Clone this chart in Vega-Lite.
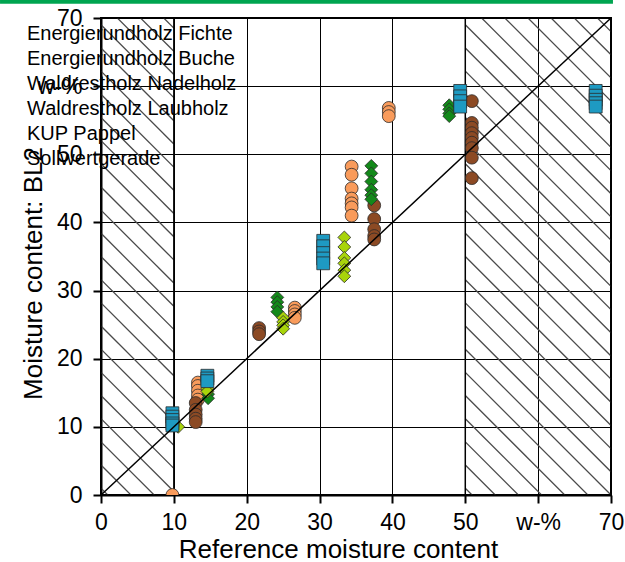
{
  "$schema": "https://vega.github.io/schema/vega-lite/v6.json",
  "width": 510,
  "height": 477,
  "autosize": {"type": "none"},
  "padding": {"left": 101, "top": 18, "right": 14, "bottom": 67},
  "background": "white",
  "config": {
    "font": "Liberation Sans",
    "view": {"stroke": "black", "strokeWidth": 2}
  },
  "datasets": {
    "hatch": [
      {"x": 0, "y": 1.0, "x2": 10, "y2": -9.69},
      {"x": 0, "y": 4.4, "x2": 10, "y2": -6.29},
      {"x": 0, "y": 7.8, "x2": 10, "y2": -2.89},
      {"x": 0, "y": 11.2, "x2": 10, "y2": 0.51},
      {"x": 0, "y": 14.6, "x2": 10, "y2": 3.91},
      {"x": 0, "y": 18.0, "x2": 10, "y2": 7.31},
      {"x": 0, "y": 21.4, "x2": 10, "y2": 10.71},
      {"x": 0, "y": 24.8, "x2": 10, "y2": 14.11},
      {"x": 0, "y": 28.2, "x2": 10, "y2": 17.51},
      {"x": 0, "y": 31.6, "x2": 10, "y2": 20.91},
      {"x": 0, "y": 35.0, "x2": 10, "y2": 24.31},
      {"x": 0, "y": 38.4, "x2": 10, "y2": 27.71},
      {"x": 0, "y": 41.8, "x2": 10, "y2": 31.11},
      {"x": 0, "y": 45.2, "x2": 10, "y2": 34.51},
      {"x": 0, "y": 48.6, "x2": 10, "y2": 37.91},
      {"x": 0, "y": 52.0, "x2": 10, "y2": 41.31},
      {"x": 0, "y": 55.4, "x2": 10, "y2": 44.71},
      {"x": 0, "y": 58.8, "x2": 10, "y2": 48.11},
      {"x": 0, "y": 62.2, "x2": 10, "y2": 51.51},
      {"x": 0, "y": 65.6, "x2": 10, "y2": 54.91},
      {"x": 0, "y": 69.0, "x2": 10, "y2": 58.31},
      {"x": 0, "y": 72.4, "x2": 10, "y2": 61.71},
      {"x": 0, "y": 75.8, "x2": 10, "y2": 65.11},
      {"x": 0, "y": 79.2, "x2": 10, "y2": 68.51},
      {"x": 50, "y": 21.4, "x2": 70, "y2": 0.01},
      {"x": 50, "y": 24.8, "x2": 70, "y2": 3.41},
      {"x": 50, "y": 28.2, "x2": 70, "y2": 6.81},
      {"x": 50, "y": 31.6, "x2": 70, "y2": 10.21},
      {"x": 50, "y": 35.0, "x2": 70, "y2": 13.61},
      {"x": 50, "y": 38.4, "x2": 70, "y2": 17.01},
      {"x": 50, "y": 41.8, "x2": 70, "y2": 20.41},
      {"x": 50, "y": 45.2, "x2": 70, "y2": 23.81},
      {"x": 50, "y": 48.6, "x2": 70, "y2": 27.21},
      {"x": 50, "y": 52.0, "x2": 70, "y2": 30.61},
      {"x": 50, "y": 55.4, "x2": 70, "y2": 34.01},
      {"x": 50, "y": 58.8, "x2": 70, "y2": 37.41},
      {"x": 50, "y": 62.2, "x2": 70, "y2": 40.81},
      {"x": 50, "y": 65.6, "x2": 70, "y2": 44.21},
      {"x": 50, "y": 69.0, "x2": 70, "y2": 47.61},
      {"x": 50, "y": 72.4, "x2": 70, "y2": 51.01},
      {"x": 50, "y": 75.8, "x2": 70, "y2": 54.41},
      {"x": 50, "y": 79.2, "x2": 70, "y2": 57.81},
      {"x": 50, "y": 82.6, "x2": 70, "y2": 61.21},
      {"x": 50, "y": 86.0, "x2": 70, "y2": 64.61},
      {"x": 50, "y": 89.4, "x2": 70, "y2": 68.01},
      {"x": 50, "y": 18.0, "x2": 70, "y2": -3.39},
      {"x": 50, "y": 14.6, "x2": 70, "y2": -6.79},
      {"x": 50, "y": 11.2, "x2": 70, "y2": -10.19},
      {"x": 50, "y": 7.8, "x2": 70, "y2": -13.59},
      {"x": 50, "y": 4.4, "x2": 70, "y2": -16.99},
      {"x": 50, "y": 1.0, "x2": 70, "y2": -20.39}
    ],
    "regions": [
      {"x": 0, "x2": 10, "y": 0, "y2": 70},
      {"x": 50, "x2": 70, "y": 0, "y2": 70}
    ],
    "ideal": [
      {"series": "Sollwertgerade", "x": 0, "y": 0},
      {"series": "Sollwertgerade", "x": 70, "y": 70}
    ],
    "pts": [
      {"series": "Energierundholz Fichte", "x": 9.8, "y": 0},
      {"series": "Energierundholz Fichte", "x": 13.3, "y": 16.5},
      {"series": "Energierundholz Fichte", "x": 13.3, "y": 16.0},
      {"series": "Energierundholz Fichte", "x": 13.3, "y": 15.3},
      {"series": "Energierundholz Fichte", "x": 13.3, "y": 14.6},
      {"series": "Energierundholz Fichte", "x": 13.3, "y": 14.0},
      {"series": "Energierundholz Fichte", "x": 26.6, "y": 27.5},
      {"series": "Energierundholz Fichte", "x": 26.6, "y": 27.0},
      {"series": "Energierundholz Fichte", "x": 26.6, "y": 26.5},
      {"series": "Energierundholz Fichte", "x": 26.6, "y": 26.0},
      {"series": "Energierundholz Fichte", "x": 34.4, "y": 48.2},
      {"series": "Energierundholz Fichte", "x": 34.4, "y": 47.0},
      {"series": "Energierundholz Fichte", "x": 34.4, "y": 45.0},
      {"series": "Energierundholz Fichte", "x": 34.4, "y": 43.5},
      {"series": "Energierundholz Fichte", "x": 34.4, "y": 42.8},
      {"series": "Energierundholz Fichte", "x": 34.4, "y": 42.2},
      {"series": "Energierundholz Fichte", "x": 34.4, "y": 41.0},
      {"series": "Energierundholz Fichte", "x": 39.5, "y": 56.8},
      {"series": "Energierundholz Fichte", "x": 39.5, "y": 56.2},
      {"series": "Energierundholz Fichte", "x": 39.5, "y": 55.6},
      {"series": "Energierundholz Buche", "x": 13.0, "y": 13.5},
      {"series": "Energierundholz Buche", "x": 13.0, "y": 12.5},
      {"series": "Energierundholz Buche", "x": 13.0, "y": 11.8},
      {"series": "Energierundholz Buche", "x": 13.0, "y": 11.2},
      {"series": "Energierundholz Buche", "x": 13.0, "y": 10.7},
      {"series": "Energierundholz Buche", "x": 21.7, "y": 24.5},
      {"series": "Energierundholz Buche", "x": 21.7, "y": 24.0},
      {"series": "Energierundholz Buche", "x": 21.7, "y": 23.6},
      {"series": "Energierundholz Buche", "x": 37.5, "y": 42.5},
      {"series": "Energierundholz Buche", "x": 37.5, "y": 40.5},
      {"series": "Energierundholz Buche", "x": 37.5, "y": 39.0},
      {"series": "Energierundholz Buche", "x": 37.5, "y": 38.0},
      {"series": "Energierundholz Buche", "x": 37.5, "y": 37.5},
      {"series": "Energierundholz Buche", "x": 50.9, "y": 57.8},
      {"series": "Energierundholz Buche", "x": 50.9, "y": 54.6},
      {"series": "Energierundholz Buche", "x": 50.9, "y": 53.9},
      {"series": "Energierundholz Buche", "x": 50.9, "y": 53.1},
      {"series": "Energierundholz Buche", "x": 50.9, "y": 52.4},
      {"series": "Energierundholz Buche", "x": 50.9, "y": 51.7},
      {"series": "Energierundholz Buche", "x": 50.9, "y": 50.9},
      {"series": "Energierundholz Buche", "x": 50.9, "y": 49.5},
      {"series": "Energierundholz Buche", "x": 50.9, "y": 46.5},
      {"series": "Waldrestholz Nadelholz", "x": 14.7, "y": 14.8},
      {"series": "Waldrestholz Nadelholz", "x": 14.7, "y": 14.2},
      {"series": "Waldrestholz Nadelholz", "x": 24.2, "y": 29.0},
      {"series": "Waldrestholz Nadelholz", "x": 24.2, "y": 28.3},
      {"series": "Waldrestholz Nadelholz", "x": 24.2, "y": 27.6},
      {"series": "Waldrestholz Nadelholz", "x": 24.2, "y": 26.9},
      {"series": "Waldrestholz Nadelholz", "x": 37.1, "y": 48.3},
      {"series": "Waldrestholz Nadelholz", "x": 37.1, "y": 47.2},
      {"series": "Waldrestholz Nadelholz", "x": 37.1, "y": 46.0},
      {"series": "Waldrestholz Nadelholz", "x": 37.1, "y": 44.8},
      {"series": "Waldrestholz Nadelholz", "x": 37.1, "y": 44.0},
      {"series": "Waldrestholz Nadelholz", "x": 37.1, "y": 43.4},
      {"series": "Waldrestholz Nadelholz", "x": 47.8, "y": 57.2},
      {"series": "Waldrestholz Nadelholz", "x": 47.8, "y": 56.6},
      {"series": "Waldrestholz Nadelholz", "x": 47.8, "y": 56.0},
      {"series": "Waldrestholz Nadelholz", "x": 47.8, "y": 55.6},
      {"series": "Waldrestholz Laubholz", "x": 10.6, "y": 10.0},
      {"series": "Waldrestholz Laubholz", "x": 14.6, "y": 15.6},
      {"series": "Waldrestholz Laubholz", "x": 14.6, "y": 15.2},
      {"series": "Waldrestholz Laubholz", "x": 25.0, "y": 26.0},
      {"series": "Waldrestholz Laubholz", "x": 25.0, "y": 25.4},
      {"series": "Waldrestholz Laubholz", "x": 25.0, "y": 24.9},
      {"series": "Waldrestholz Laubholz", "x": 25.0, "y": 24.4},
      {"series": "Waldrestholz Laubholz", "x": 33.4, "y": 37.8},
      {"series": "Waldrestholz Laubholz", "x": 33.4, "y": 36.4},
      {"series": "Waldrestholz Laubholz", "x": 33.4, "y": 34.8},
      {"series": "Waldrestholz Laubholz", "x": 33.4, "y": 34.0},
      {"series": "Waldrestholz Laubholz", "x": 33.4, "y": 33.0},
      {"series": "Waldrestholz Laubholz", "x": 33.4, "y": 32.1},
      {"series": "KUP Pappel", "x": 9.8, "y": 12.0},
      {"series": "KUP Pappel", "x": 9.8, "y": 11.5},
      {"series": "KUP Pappel", "x": 9.8, "y": 11.0},
      {"series": "KUP Pappel", "x": 9.8, "y": 10.5},
      {"series": "KUP Pappel", "x": 9.8, "y": 10.2},
      {"series": "KUP Pappel", "x": 14.6, "y": 17.5},
      {"series": "KUP Pappel", "x": 14.6, "y": 17.1},
      {"series": "KUP Pappel", "x": 14.6, "y": 16.7},
      {"series": "KUP Pappel", "x": 30.5, "y": 37.3},
      {"series": "KUP Pappel", "x": 30.5, "y": 36.5},
      {"series": "KUP Pappel", "x": 30.5, "y": 35.5},
      {"series": "KUP Pappel", "x": 30.5, "y": 34.7},
      {"series": "KUP Pappel", "x": 30.5, "y": 34.0},
      {"series": "KUP Pappel", "x": 49.3, "y": 59.3},
      {"series": "KUP Pappel", "x": 49.3, "y": 58.5},
      {"series": "KUP Pappel", "x": 49.3, "y": 57.8},
      {"series": "KUP Pappel", "x": 49.3, "y": 57.0},
      {"series": "KUP Pappel", "x": 67.9, "y": 59.3},
      {"series": "KUP Pappel", "x": 67.9, "y": 58.6},
      {"series": "KUP Pappel", "x": 67.9, "y": 58.0},
      {"series": "KUP Pappel", "x": 67.9, "y": 57.5},
      {"series": "KUP Pappel", "x": 67.9, "y": 57.0}
    ]
  },
  "layer": [
    {
      "data": {"name": "hatch"},
      "mark": {"type": "rule", "color": "#4a4a4a", "strokeWidth": 1.3, "clip": true},
      "encoding": {
        "x": {
          "field": "x", "type": "quantitative",
          "scale": {"domain": [0, 70], "nice": false, "zero": false},
          "axis": {
            "title": "Reference moisture content",
            "values": [0, 10, 20, 30, 40, 50, 60, 70],
            "labelExpr": "datum.value == 60 ? 'w-%' : datum.label",
            "grid": true, "gridColor": "black", "gridWidth": 1, "gridOpacity": 1,
            "domain": true, "domainColor": "black", "domainWidth": 2,
            "ticks": true, "tickColor": "black", "tickWidth": 2, "tickSize": 8,
            "labelFontSize": 23, "labelPadding": 8, "labelColor": "black",
            "labelFlush": false, "labelOverlap": false,
            "titleFontSize": 26, "titleFontWeight": "normal", "titleColor": "black",
            "titleX": 237, "titleY": 62, "titleAlign": "center", "titleBaseline": "alphabetic"
          }
        },
        "x2": {"field": "x2"},
        "y": {
          "field": "y", "type": "quantitative",
          "scale": {"domain": [0, 70], "nice": false, "zero": false},
          "axis": {
            "title": "Moisture content: BL2",
            "values": [0, 10, 20, 30, 40, 50, 60, 70],
            "labelExpr": "datum.value == 60 ? 'w-%' : datum.label",
            "grid": true, "gridColor": "black", "gridWidth": 1, "gridOpacity": 1,
            "domain": true, "domainColor": "black", "domainWidth": 2,
            "ticks": true, "tickColor": "black", "tickWidth": 2, "tickSize": 8,
            "labelFontSize": 23, "labelPadding": 11, "labelColor": "black",
            "labelFlush": false, "labelOverlap": false,
            "titleFontSize": 26, "titleFontWeight": "normal", "titleColor": "black",
            "titleX": -68, "titleY": 255, "titleAlign": "center", "titleBaseline": "middle", "titleAngle": 270
          }
        },
        "y2": {"field": "y2"}
      }
    },
    {
      "data": {"name": "regions"},
      "mark": {"type": "rect", "fill": "transparent", "stroke": "black", "strokeWidth": 1.5},
      "encoding": {
        "x": {"field": "x", "type": "quantitative", "scale": {"domain": [0, 70], "nice": false, "zero": false}},
        "x2": {"field": "x2"},
        "y": {"field": "y", "type": "quantitative", "scale": {"domain": [0, 70], "nice": false, "zero": false}},
        "y2": {"field": "y2"}
      }
    },
    {
      "data": {"name": "pts"},
      "mark": {"type": "point", "filled": true, "opacity": 1, "stroke": "#2b2b2b", "strokeWidth": 0.8, "clip": true},
      "encoding": {
        "x": {"field": "x", "type": "quantitative", "scale": {"domain": [0, 70], "nice": false, "zero": false}},
        "y": {"field": "y", "type": "quantitative", "scale": {"domain": [0, 70], "nice": false, "zero": false}},
        "color": {
          "field": "series", "type": "nominal",
          "scale": {
            "domain": ["Energierundholz Fichte", "Energierundholz Buche", "Waldrestholz Nadelholz", "Waldrestholz Laubholz", "KUP Pappel", "Sollwertgerade"],
            "range": ["#f99b5b", "#8c4a24", "#13891a", "#a8d40a", "#1e9ac2", "#000000"]
          },
          "legend": {
            "title": null, "orient": "none", "legendX": -94, "legendY": 6,
            "labelFontSize": 20, "labelColor": "black", "labelLimit": 0,
            "symbolOpacity": 0, "symbolSize": 0, "symbolStrokeWidth": 0,
            "rowPadding": 5, "labelOffset": 0, "padding": 0
          }
        },
        "shape": {
          "field": "series", "type": "nominal",
          "scale": {
            "domain": ["Energierundholz Fichte", "Energierundholz Buche", "Waldrestholz Nadelholz", "Waldrestholz Laubholz", "KUP Pappel"],
            "range": ["circle", "circle", "diamond", "diamond", "square"]
          },
          "legend": null
        },
        "size": {
          "field": "series", "type": "nominal",
          "scale": {
            "domain": ["Energierundholz Fichte", "Energierundholz Buche", "Waldrestholz Nadelholz", "Waldrestholz Laubholz", "KUP Pappel"],
            "range": [165, 165, 240, 240, 130]
          },
          "legend": null
        }
      }
    },
    {
      "data": {"name": "ideal"},
      "mark": {"type": "line", "strokeWidth": 1.5},
      "encoding": {
        "x": {"field": "x", "type": "quantitative", "scale": {"domain": [0, 70], "nice": false, "zero": false}},
        "y": {"field": "y", "type": "quantitative", "scale": {"domain": [0, 70], "nice": false, "zero": false}},
        "color": {"field": "series", "type": "nominal"}
      }
    },
    {
      "data": {"values": [{}]},
      "mark": {"type": "rule", "color": "#00a550", "strokeWidth": 4, "clip": false},
      "encoding": {
        "x": {"datum": -13.86, "type": "quantitative"},
        "x2": {"datum": 70.27},
        "y": {"datum": 72.4, "type": "quantitative"}
      }
    }
  ]
}
